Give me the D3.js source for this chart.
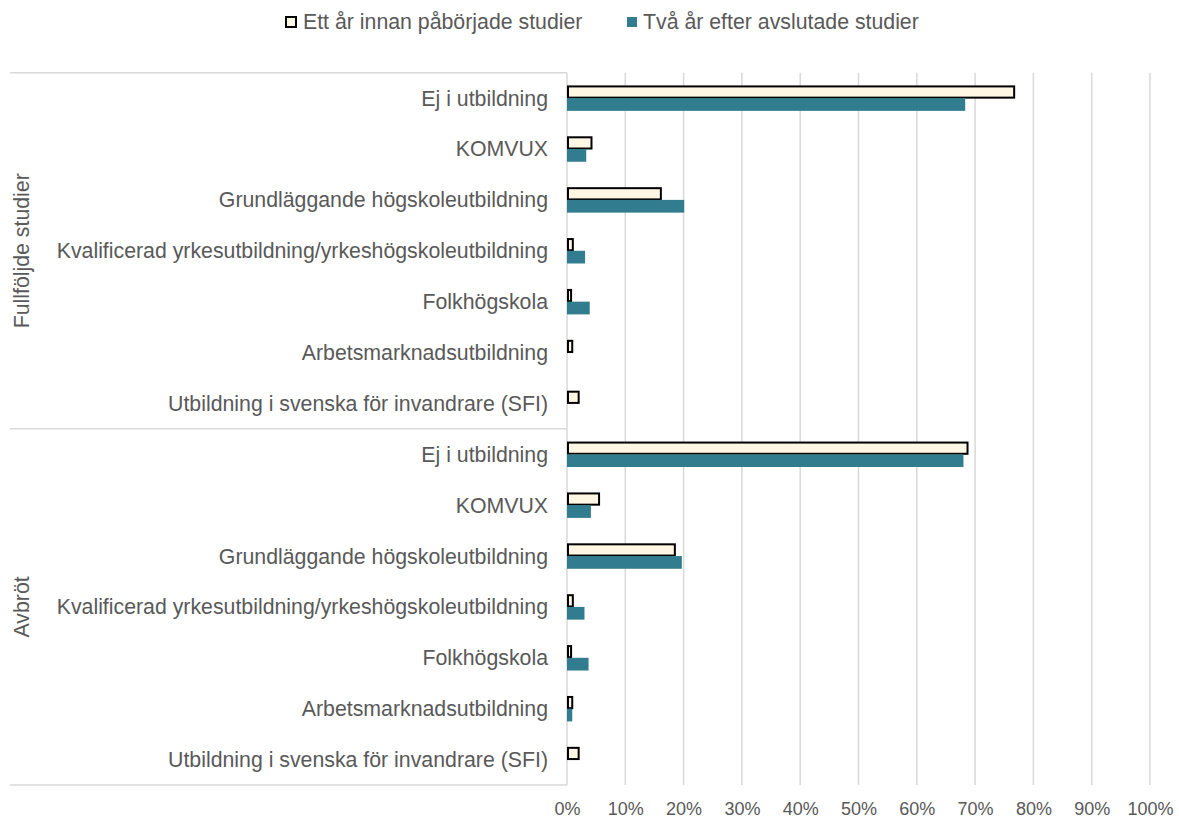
<!DOCTYPE html>
<html><head><meta charset="utf-8">
<script src="https://cdn.jsdelivr.net/npm/d3@7"></script>
<style>
body{margin:0;background:#fff;}
text{font-family:"Liberation Sans",Arial,sans-serif;fill:#595959;}
</style></head>
<body><svg id="c" width="1179" height="821"></svg>
<script>
const groups = ["Fullföljde studier", "Avbröt"];
const categories = ["Ej i utbildning","KOMVUX","Grundläggande högskoleutbildning","Kvalificerad yrkesutbildning/yrkeshögskoleutbildning","Folkhögskola","Arbetsmarknadsutbildning","Utbildning i svenska för invandrare (SFI)"];
const seriesNames = ["Ett år innan påbörjade studier","Två år efter avslutade studier"];
// values in percent, per group, per category
const beforeFull = [76.7, 4.2, 16.1, 1.0, 0.7, 0.9, 2.0];
const afterFull  = [68.3, 3.3, 20.1, 3.1, 3.9, 0, 0];
const beforeAvb  = [68.7, 5.5, 18.5, 1.0, 0.7, 0.9, 2.0];
const afterAvb   = [68.0, 4.1, 19.7, 3.0, 3.7, 0.9, 0];
const tickValues = [0,10,20,30,40,50,60,70,80,90,100];

const groupData = [[beforeFull, afterFull],[beforeAvb, afterAvb]];
const rows = [];
groups.forEach((g,gi)=>categories.forEach((c,ci)=>rows.push({key:g+"|"+c, group:g, cat:c, vals:[groupData[gi][0][ci], groupData[gi][1][ci]]})));

const svg = d3.select("#c");
const x0 = 567, x1 = 1150, yTop = 72.7, yBot = 785;
const FS = 21.3;
const x = d3.scaleLinear().domain([0,100]).range([x0,x1]);
const y = d3.scaleBand().domain(rows.map(r=>r.key)).range([yTop,yBot]).paddingInner(0.5).paddingOuter(0.25);
const ys = d3.scaleBand().domain([0,1]).range([0,y.bandwidth()]);
const colors = ["#FFF7E4","#317C8E"];

// gridlines
svg.append("g").selectAll("line").data(tickValues).join("line")
  .attr("x1",d=>x(d)).attr("x2",d=>x(d)).attr("y1",yTop).attr("y2",yBot)
  .attr("stroke","#d9d9d9").attr("stroke-width",1.5);

// group separator lines
const step = y.step();
const bounds = [yTop, yTop + step*categories.length, yBot];
svg.append("g").selectAll("line").data(bounds).join("line")
  .attr("x1",10).attr("x2",x0).attr("y1",d=>d).attr("y2",d=>d)
  .attr("stroke","#d9d9d9").attr("stroke-width",1.5);

// bars
const rg = svg.append("g").selectAll("g").data(rows).join("g")
  .attr("transform",d=>`translate(0,${y(d.key)})`);
rg.selectAll("rect.b").data(d=>d.vals[0]>0?[d.vals[0]]:[]).join("rect")
  .attr("x",x(0)+1).attr("y",ys(0)+1).attr("width",d=>x(d)-x(0)-1).attr("height",ys.bandwidth()-1.5)
  .attr("fill",colors[0]).attr("stroke","#000").attr("stroke-width",2);
rg.selectAll("rect.a").data(d=>d.vals[1]>0?[d.vals[1]]:[]).join("rect")
  .attr("x",x(0)).attr("y",ys(1)).attr("width",d=>x(d)-x(0)).attr("height",ys.bandwidth())
  .attr("fill",colors[1]);

// category labels
svg.append("g").selectAll("text").data(rows).join("text")
  .attr("x",x0-19).attr("y",d=>y(d.key)+y.bandwidth()/2).attr("dy","0.35em")
  .attr("text-anchor","end").attr("font-size",FS).text(d=>d.cat);

// group labels
groups.forEach((g,i)=>{
  const cy = (bounds[i]+bounds[i+1])/2;
  svg.append("text").attr("transform",`translate(22,${cy}) rotate(-90)`).attr("dy","0.35em")
    .attr("text-anchor","middle").attr("font-size",FS).text(g);
});

// x axis
const xAxis = d3.axisBottom(x).tickValues(tickValues).tickFormat(d=>d+"%").tickSize(0).tickPadding(0);
const ax = svg.append("g").attr("transform",`translate(0,${809})`).call(xAxis);
ax.select(".domain").remove();
ax.selectAll("text").attr("font-size",18).attr("dy","0.35em").style("fill","#595959").style("font-family","Liberation Sans, Arial, sans-serif");

// legend
const leg = [{x:286, c:colors[0], s:"#000", tx:303},{x:627, c:colors[1], s:"none", tx:643}];
leg.forEach((l,i)=>{
  svg.append("rect").attr("x",l.x).attr("y",17).attr("width",10).attr("height",10)
    .attr("fill",l.c).attr("stroke",l.s).attr("stroke-width",l.s==="none"?0:2);
  svg.append("text").attr("x",l.tx).attr("y",22).attr("dy","0.35em").attr("font-size",FS).text(seriesNames[i]);
});
</script></body></html>
